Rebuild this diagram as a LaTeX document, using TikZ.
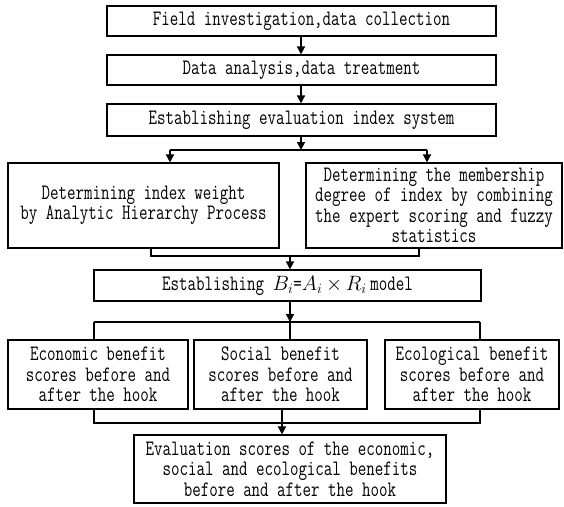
\documentclass[tikz,border=0pt]{standalone}
\usepackage{fontspec}
\setmainfont[FakeStretch=0.75]{Latin Modern Mono}
\usetikzlibrary{arrows.meta}
\begin{document}
\begin{tikzpicture}[x=1pt,y=-1pt,
  box/.style={draw,line width=1.2pt,inner sep=0pt,align=center,
    font=\fontsize{22}{20.5}\selectfont},
  conn/.style={line width=1.6pt},
  arr/.style={line width=1.6pt,-{Triangle[width=8pt,length=8pt]}}]
\useasboundingbox (0,0) rectangle (564,506);
\fill[white] (0,0) rectangle (564,506);
% boxes
\node[box,minimum width=389pt,minimum height=30pt] (b1) at (301.5,21) {Field investigation,data collection};
\node[box,minimum width=389pt,minimum height=30pt] (b2) at (301.5,70) {Data analysis,data treatment};
\node[box,minimum width=389pt,minimum height=32pt] (b3) at (301.5,120) {Establishing evaluation index system};
\node[box,minimum width=271pt,minimum height=85pt] (b4) at (143.5,205.5) {Determining index weight\\by Analytic Hierarchy Process};
\node[box,minimum width=256pt,minimum height=85pt] (b5) at (434,205.5) {Determining the membership\\degree of index by combining\\the expert scoring and fuzzy\\statistics};
\node[box,minimum width=387pt,minimum height=31pt] (b6) at (287.5,285.5) {Establishing \(B_i\)=\(A_i\)\,\(\times\)\,\(R_i\)\,model};
\node[box,minimum width=180pt,minimum height=69pt] (b7) at (98,374.5) {Economic benefit\\scores before and\\after the hook};
\node[box,minimum width=173pt,minimum height=69pt] (b8) at (280.5,374.5) {Social benefit\\scores before and\\after the hook};
\node[box,minimum width=174pt,minimum height=69pt] (b9) at (472,374.5) {Ecological benefit\\scores before and\\after the hook};
\node[box,minimum width=312pt,minimum height=68pt] (b10) at (290,469) {Evaluation scores of the economic,\\social and ecological benefits\\before and after the hook};
% junction coordinates
\coordinate (j1) at (301,150);
\coordinate (j1l) at (170,150);
\coordinate (j1r) at (427,150);
\coordinate (j2l) at (151,256);
\coordinate (j2r) at (419,256);
\coordinate (j2) at (290,256);
\coordinate (j3) at (290,322);
\coordinate (j3l) at (94,322);
\coordinate (j3r) at (480,322);
\coordinate (j4l) at (94,423);
\coordinate (j4r) at (480,423);
% connectors
\draw[arr] (b1.south -| j1) -- (b2.north -| j1);
\draw[arr] (b2.south -| j1) -- (b3.north -| j1);
\draw[arr] (b3.south -| j1) -- (j1);
\draw[conn] (j1l) -- (j1r);
\draw[arr] (j1l) -- (b4.north -| j1l);
\draw[arr] (j1r) -- (b5.north -| j1r);
\draw[conn] (b4.south -| j2l) -- (j2l) -- (j2r) -- (b5.south -| j2r);
\draw[arr] (j2) -- (b6.north -| j2);
\draw[arr] (b6.south -| j3) -- (j3);
\draw[conn] (j3l) -- (j3r);
\draw[conn] (j3l) -- (b7.north -| j3l);
\draw[conn] (j3) -- (b8.north -| j3);
\draw[conn] (j3r) -- (b9.north -| j3r);
\draw[conn] (b7.south -| j4l) -- (j4l) -- (j4r) -- (b9.south -| j4r);
\draw[arr] (b8.south -| 282,0) -- (b10.north -| 282,0);
\end{tikzpicture}
\end{document}
